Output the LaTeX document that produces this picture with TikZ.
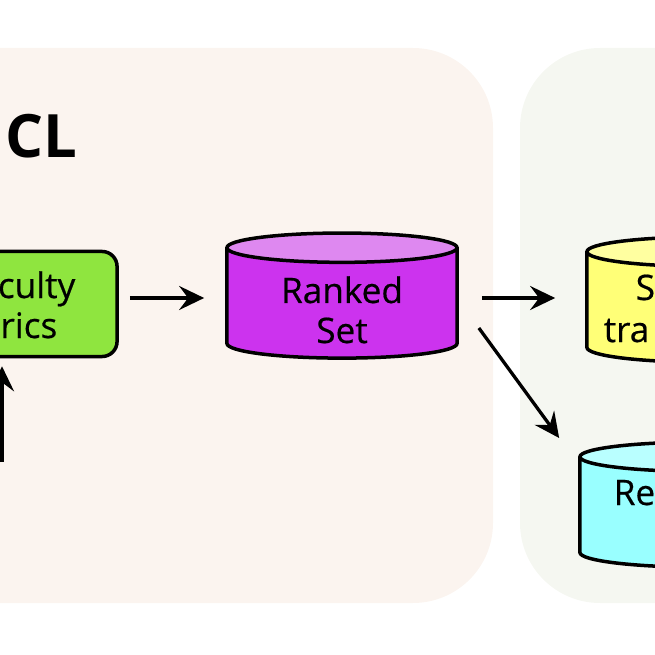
\documentclass[tikz,border=0pt]{standalone}
\usepackage{fontspec}
\setmainfont{Open Sans}
\usetikzlibrary{arrows.meta, shapes.geometric, calc}

\definecolor{panelA}{RGB}{251,244,239}
\definecolor{panelB}{RGB}{245,247,241}
\definecolor{metgreen}{RGB}{143,229,63}
\definecolor{magbody}{RGB}{204,51,238}
\definecolor{magtop}{RGB}{222,136,240}
\definecolor{yelbody}{RGB}{255,255,119}
\definecolor{yeltop}{RGB}{255,255,160}
\definecolor{cyanbody}{RGB}{153,255,255}
\definecolor{cyantop}{RGB}{185,255,255}

\begin{document}
\begin{tikzpicture}[x=0.01cm, y=-0.01cm,
    txt/.style={font=\fontsize{10pt}{11.4pt}\selectfont\addfontfeature{FakeBold=0.5}, inner sep=0pt},
    arr/.style={-{Stealth[length=0.25cm, width=0.24cm, inset=0.09cm]}, line width=0.033cm},
    store/.style={cylinder, shape border rotate=90, draw, line width=0.035cm,
      cylinder uses custom fill, aspect=1.25,
      minimum width=2.3cm, minimum height=1.25cm}]
  \useasboundingbox (0,0) rectangle (655,655);
  \clip (0,0) rectangle (655,655);

  %% the two panels
  \fill[panelA, rounded corners=0.8cm] (-200,48) rectangle (493,603);
  \fill[panelB, rounded corners=0.8cm] (520,48) rectangle (900,603);

  %% title
  \node[font=\fontsize{17pt}{20pt}\selectfont\bfseries, anchor=base west, inner sep=0pt]
    (title) at (5,158) {CL};

  %% difficulty box
  \node[draw, line width=0.035cm, fill=metgreen, rounded corners=0.15cm,
    minimum width=2.34cm, minimum height=1.05cm] (metrics) at (0,304) {};
  \node[txt, anchor=base east] (metA) at (76,298) {culty};
  \node[txt, anchor=base east] (metB) at (58,338) {rics};

  %% stores
  \node[store, cylinder body fill=magbody, cylinder end fill=magtop] (ranked) at (342,307) {};
  \node[txt, anchor=base] (rankA) at (342,303) {Ranked};
  \node[txt, anchor=base] (rankB) at (342,343) {Set};

  \node[store, cylinder body fill=yelbody, cylinder end fill=yeltop] (simple) at (702,311) {};
  \node[txt, anchor=base west] (simA) at (635,300) {S};
  \node[txt, anchor=base west] (simB) at (603,342) {tra};

  \node[store, cylinder body fill=cyanbody, cylinder end fill=cyantop,
    minimum width=2.4cm] (rest) at (700,516) {};
  \node[txt, anchor=base west] (resA) at (613,505) {Re};

  %% arrows
  \coordinate (rkW) at ([yshift=0.09cm]ranked.west);
  \coordinate (rkE) at ([yshift=0.09cm]ranked.east);
  \coordinate (src) at (2,462);
  \draw[arr, shorten >=0.08cm] (src) -- (src |- metrics.south);
  \draw[arr, shorten <=0.11cm, shorten >=0.21cm] (metrics.east |- rkW) -- (rkW);
  \draw[arr, shorten <=0.23cm, shorten >=0.3cm] (rkE) -- (simple.west |- rkE);
  \draw[arr] ($(ranked.east)+(20,21)$) -- ($(rest.west)+(-19,-78)$);
\end{tikzpicture}
\end{document}
